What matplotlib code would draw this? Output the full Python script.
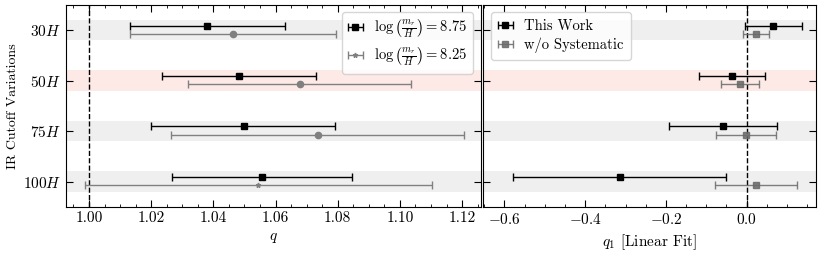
import matplotlib
matplotlib.use("Agg")
import matplotlib.pyplot as plt

plt.rcParams['font.family'] = 'serif'
plt.rcParams['font.serif'] = ['cmr10']
plt.rcParams['mathtext.fontset'] = 'cm'
plt.rcParams['axes.formatter.use_mathtext'] = True
plt.rcParams['font.size'] = 11

# categories (top to bottom)
cutoffs = [r'$30H$', r'$50H$', r'$75H$', r'$100H$']
band_colors = ['#efefef', '#fde9e6', '#efefef', '#efefef']

# left panel: q, log(m_r/H) = 8.75
q_875 = [1.0381, 1.0482, 1.0497, 1.0556]
q_875_lo = [1.0131, 1.0235, 1.0201, 1.0266]
q_875_hi = [1.0632, 1.0729, 1.0791, 1.0846]
# left panel: q, log(m_r/H) = 8.25
q_825 = [1.0463, 1.0679, 1.0736, 1.0544]
q_825_lo = [1.0131, 1.0320, 1.0265, 0.9986]
q_825_hi = [1.0795, 1.1036, 1.1206, 1.1102]

# right panel: q1 (linear fit)
q1_work = [0.066, -0.036, -0.059, -0.314]
q1_work_lo = [-0.004, -0.117, -0.192, -0.578]
q1_work_hi = [0.137, 0.046, 0.075, -0.052]
q1_nosys = [0.023, -0.016, -0.001, 0.022]
q1_nosys_lo = [-0.010, -0.064, -0.076, -0.079]
q1_nosys_hi = [0.055, 0.030, 0.073, 0.125]

fig = plt.figure(figsize=(8.22, 2.54), dpi=100)
ax1 = fig.add_axes([0.0803, 0.186, 0.5045, 0.795])
ax2 = fig.add_axes([0.588, 0.186, 0.4047, 0.795])

def err(c, lo, hi):
    return [[c - lo], [hi - c]]

for i in range(len(cutoffs)):
    last = i == len(cutoffs) - 1
    for ax in (ax1, ax2):
        ax.axhspan(i - 0.2, i + 0.2, color=band_colors[i], lw=0, zorder=0)
    ax1.errorbar(q_875[i], i - 0.09, xerr=err(q_875[i], q_875_lo[i], q_875_hi[i]),
                 fmt='s', color='black', ms=4.5, capsize=3, lw=1, capthick=1,
                 label=r'$\log\left(\frac{m_r}{H}\right) = 8.75$' if last else None)
    ax1.errorbar(q_825[i], i + 0.07, xerr=err(q_825[i], q_825_lo[i], q_825_hi[i]),
                 fmt='o' if not last else '*', color='gray', ms=4.5 if not last else 3.5,
                 capsize=3, lw=1, capthick=1,
                 label=r'$\log\left(\frac{m_r}{H}\right) = 8.25$' if last else None)
    ax2.errorbar(q1_work[i], i - 0.09, xerr=err(q1_work[i], q1_work_lo[i], q1_work_hi[i]),
                 fmt='s', color='black', ms=4.5, capsize=3, lw=1, capthick=1,
                 label='This Work' if last else None)
    ax2.errorbar(q1_nosys[i], i + 0.07, xerr=err(q1_nosys[i], q1_nosys_lo[i], q1_nosys_hi[i]),
                 fmt='s', color='dimgray', ms=4.5, capsize=3, lw=1, capthick=1,
                 alpha=0.85, label='w/o Systematic' if last else None)

ax1.axvline(1.0, color='black', ls='--', lw=1, zorder=1)
ax2.axvline(0.0, color='black', ls='--', lw=1, zorder=1)

for ax in (ax1, ax2):
    ax.set_ylim(3.5, -0.5)
    ax.set_yticks(range(len(cutoffs)))
    ax.minorticks_on()
    ax.tick_params(which='both', direction='in', top=True, right=True)
    ax.tick_params(axis='y', which='minor', left=False, right=False)
    ax.tick_params(which='major', length=5)
    ax.tick_params(which='minor', length=2.5)

ax1.set_yticklabels(cutoffs)
ax2.set_yticklabels([])
ax1.set_xlim(0.9926, 1.126)
ax1.set_xticks([1.00, 1.02, 1.04, 1.06, 1.08, 1.10, 1.12])
ax1.set_xticklabels(['1.00', '1.02', '1.04', '1.06', '1.08', '1.10', '1.12'])
ax2.set_xlim(-0.652, 0.1716)
ax2.set_xticks([-0.6, -0.4, -0.2, 0.0])
ax2.set_xticklabels([r'$-0.6$', r'$-0.4$', r'$-0.2$', r'$0.0$'])

ax1.set_xlabel(r'$q$')
ax1.set_ylabel('IR Cutoff Variations', fontsize=10, labelpad=3)
ax2.set_xlabel(r'$q_1$ [Linear Fit]')

ax1.legend(loc='upper right', fontsize=10.5, handlelength=1.0, handletextpad=0.8,
           labelspacing=0.3, borderpad=0.4)
ax2.legend(loc='upper left', fontsize=10.5, handlelength=1.0, handletextpad=0.8,
           labelspacing=0.3, borderpad=0.5)

fig.savefig('out.png', dpi=100)
